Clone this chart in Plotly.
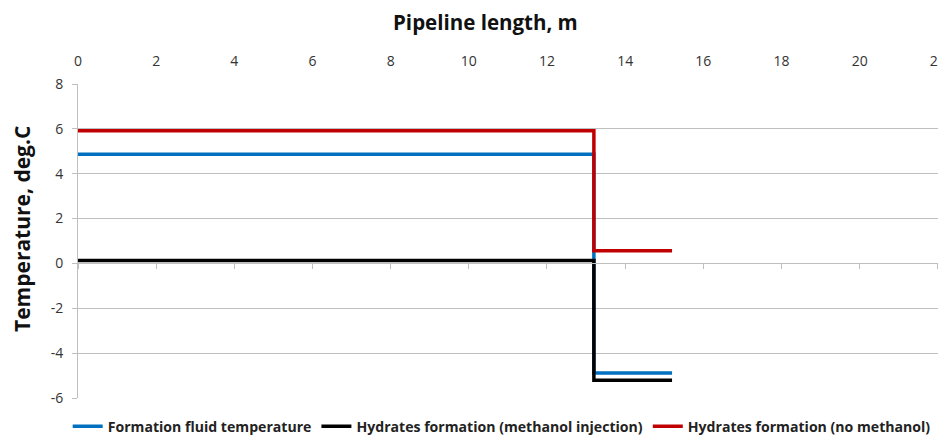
import plotly.graph_objects as go

# Data
x_points = [0, 13.2, 15.2]
formation_fluid_temp = [4.87, -4.88, -4.88]
hydrates_methanol = [0.13, -5.21, -5.21]
hydrates_no_methanol = [5.92, 0.56, 0.56]

series_names = ["Formation fluid temperature",
                "Hydrates formation (methanol injection)",
                "Hydrates formation (no methanol)"]
series_values = [formation_fluid_temp, hydrates_methanol, hydrates_no_methanol]
series_colors = ["#0070C0", "#000000", "#C00000"]

x_ticks = list(range(0, 23, 2))
y_ticks = list(range(-6, 9, 2))
y_ticktext = [str(v) for v in y_ticks]  # hyphen minus as in the reference

fig = go.Figure()
for name, vals, col in zip(series_names, series_values, series_colors):
    fig.add_trace(go.Scatter(x=x_points, y=vals, name=name, mode="lines",
                             line=dict(color=col, width=3.5, shape="hv")))

font_family = "Open Sans, Liberation Sans, sans-serif"
x_range = [0, 22.005]
# page body has an 8px margin, so the figure is sized to fit the 946x437 window
fig.update_layout(
    width=938, height=429,
    margin=dict(l=70, r=8, t=76, b=39, autoexpand=False),
    plot_bgcolor="white", paper_bgcolor="white",
    font=dict(family=font_family, color="#333333", size=14),
    showlegend=True,
    legend=dict(orientation="h", x=-0.012, xanchor="left", y=-0.04, yanchor="top",
                font=dict(size=14.1, color="#222222", family=font_family, weight="bold"),
                itemwidth=30, tracegroupgap=0, traceorder="normal"),
    xaxis=dict(range=x_range, tickvals=x_ticks, side="top", showgrid=False,
               zeroline=False, showline=False, ticks="", ticklabelstandoff=14,
               automargin=False, tickfont=dict(size=14, color="#333333")),
    xaxis2=dict(range=x_range, tickvals=x_ticks, overlaying="x", anchor="free",
                position=6/14, side="bottom", showticklabels=False, showgrid=False,
                zeroline=False, showline=True, linecolor="#BFBFBF", linewidth=1,
                ticks="outside", ticklen=5, tickcolor="#BFBFBF", automargin=False),
    yaxis=dict(range=[-6, 8], tickvals=y_ticks, ticktext=y_ticktext, showgrid=True,
               gridcolor="#BFBFBF", gridwidth=1, zeroline=False, showline=True,
               linecolor="#BFBFBF", ticks="outside", ticklen=5, tickcolor="#BFBFBF",
               ticklabelstandoff=6, automargin=False,
               tickfont=dict(size=14, color="#333333")),
    annotations=[
        dict(text="<b>Pipeline length, m</b>", xref="paper", yref="paper",
             x=(490 - 78) / 860, xshift=-5, y=1, yshift=62, xanchor="center",
             yanchor="middle", showarrow=False,
             font=dict(size=20.5, color="#111111", family=font_family)),
        dict(text="<b>Temperature, deg.C</b>", xref="paper", yref="paper",
             x=0, xshift=-56, y=0.5, yshift=12, xanchor="center", yanchor="middle",
             textangle=-90, showarrow=False,
             font=dict(size=21, color="#111111", family=font_family)),
    ],
)
# empty trace to activate the zero-line axis with tick marks
fig.add_trace(go.Scatter(x=[None], y=[None], xaxis="x2", showlegend=False, hoverinfo="skip"))

fig.write_html("out.html")
